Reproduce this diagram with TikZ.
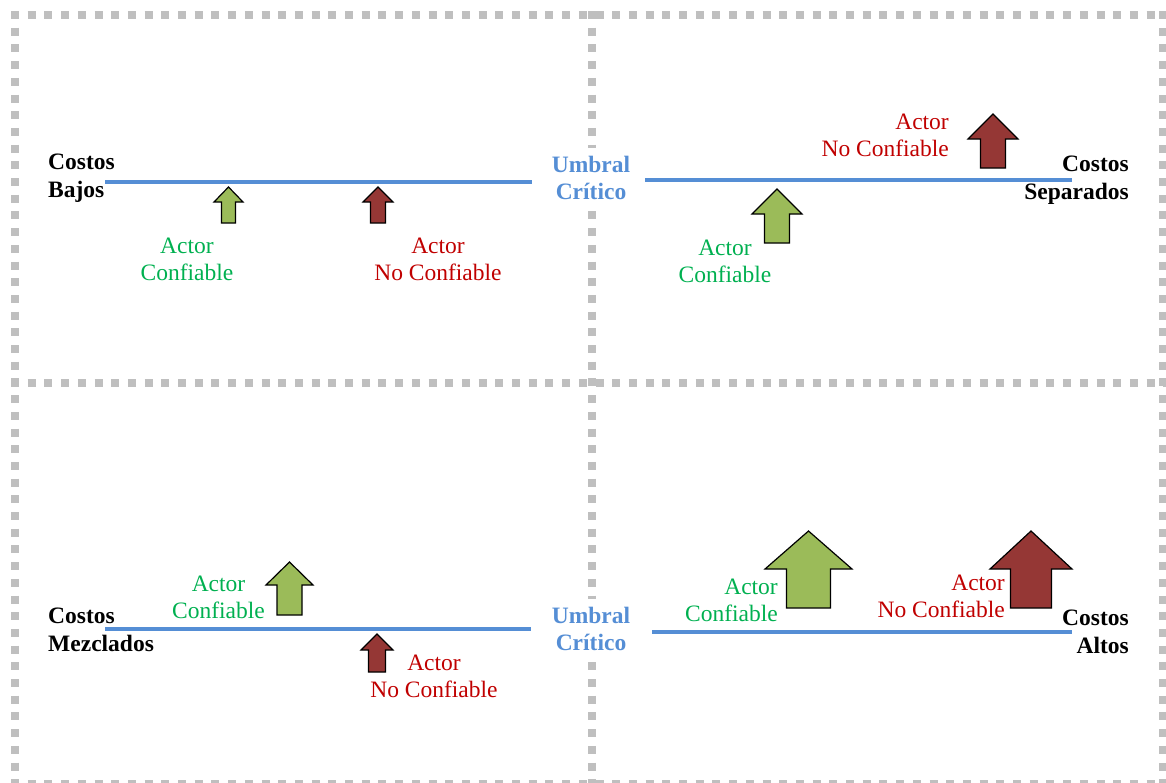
\documentclass[tikz,border=0pt]{standalone}
\usepackage{fontspec}
\setmainfont{Liberation Serif}
\definecolor{bordergray}{RGB}{191,191,191}
\definecolor{scaleblue}{RGB}{85,142,213}
\definecolor{trustgreen}{RGB}{155,187,89}
\definecolor{untrustred}{RGB}{149,55,53}
\definecolor{labelgreen}{RGB}{0,176,80}
\definecolor{labelred}{RGB}{192,0,0}
\newcommand\blockarrow[7]{%
  \draw[arrowline, fill=#1] (#2,#3) -- (#2+#4,#6) -- (#2+#5,#6) -- (#2+#5,#7)
    -- (#2-#5,#7) -- (#2-#5,#6) -- (#2-#4,#6) -- cycle;}
\begin{document}
\begin{tikzpicture}[x=1pt,y=-1pt,
  frame/.style={draw=bordergray, line width=8pt, dash pattern=on 8pt off 8.7pt},
  scale line/.style={draw=scaleblue, line width=4.5pt},
  arrowline/.style={draw=black, line width=1.2pt, line join=miter},
  txt/.style={inner sep=0pt, font=\fontsize{23.5}{27}\selectfont},
  costlabel/.style={txt, font=\fontsize{23.5}{27.5}\selectfont\bfseries, text=black},
  umbral/.style={txt, font=\fontsize{23.5}{27.5}\selectfont\bfseries, text=scaleblue,
    align=center, fill=white, inner xsep=3pt, inner ysep=8pt},
  goodlabel/.style={txt, text=labelgreen},
  badlabel/.style={txt, text=labelred}]
\useasboundingbox (0,0) rectangle (1166,782);

% dotted frame and quadrant dividers
\draw[frame] (11,15) -- (1166,15);
\draw[frame] (15,11) -- (15,790);
\draw[frame] (1163,11) -- (1163,790);
\draw[frame] (11,784) -- (1166,784);
\draw[frame] (592,11) -- (592,790);
\draw[frame] (11,383) -- (1166,383);

% scale lines
\coordinate (tlA) at (105,182); \coordinate (tlB) at (532,182);
\coordinate (trA) at (645,180); \coordinate (trB) at (1072,180);
\coordinate (blA) at (105,629); \coordinate (blB) at (531,629);
\coordinate (brA) at (652,632); \coordinate (brB) at (1072,632);
\draw[scale line] (tlA) -- (tlB);
\draw[scale line] (trA) -- (trB);
\draw[scale line] (blA) -- (blB);
\draw[scale line] (brA) -- (brB);

% threshold labels
\node[umbral] (umbralTop) at (591,178) {Umbral\\Crítico};
\node[umbral] (umbralBot) at (591,629) {Umbral\\Crítico};

% cost labels
\node[costlabel, anchor=west, align=left] (bajos) at (48,178) {Costos\\Bajos};
\node[costlabel, anchor=east, align=right] (separados) at (1129,180) {Costos\\Separados};
\node[costlabel, anchor=west, align=left] (mezclados) at (48,630) {Costos\\Mezclados};
\node[costlabel, anchor=east, align=right] (altos) at (1129,632) {Costos\\Altos};

% actor arrows
\blockarrow{trustgreen}{228.5}{187}{14.5}{7}{202}{223}
\blockarrow{untrustred}{378}{187}{15}{7.5}{202}{223}
\blockarrow{untrustred}{993}{114}{25}{12.5}{139}{168}
\blockarrow{trustgreen}{777}{189}{25}{12.5}{214}{243}
\blockarrow{trustgreen}{289.5}{562}{23.5}{12.5}{585}{615}
\blockarrow{untrustred}{377}{634}{16}{8.5}{650}{672}
\blockarrow{trustgreen}{808.5}{531}{43.5}{22}{569}{608}
\blockarrow{untrustred}{1031}{531}{41}{20.5}{569}{608}

% actor labels
\node[goodlabel, align=center] (tlGood) at (187,259) {Actor\\Confiable};
\node[badlabel, align=center] (tlBad) at (438,259) {Actor\\No Confiable};
\node[badlabel, align=right, anchor=east] (trBad) at (949,135) {Actor\\No Confiable};
\node[goodlabel, align=center] (trGood) at (725,261) {Actor\\Confiable};
\node[goodlabel, align=center] (blGood) at (218.5,597) {Actor\\Confiable};
\node[badlabel, align=center] (blBad) at (434,676) {Actor\\No Confiable};
\node[goodlabel, align=right, anchor=east] (brGood) at (778,600) {Actor\\Confiable};
\node[badlabel, align=right, anchor=east] (brBad) at (1005,596) {Actor\\No Confiable};
\end{tikzpicture}
\end{document}
